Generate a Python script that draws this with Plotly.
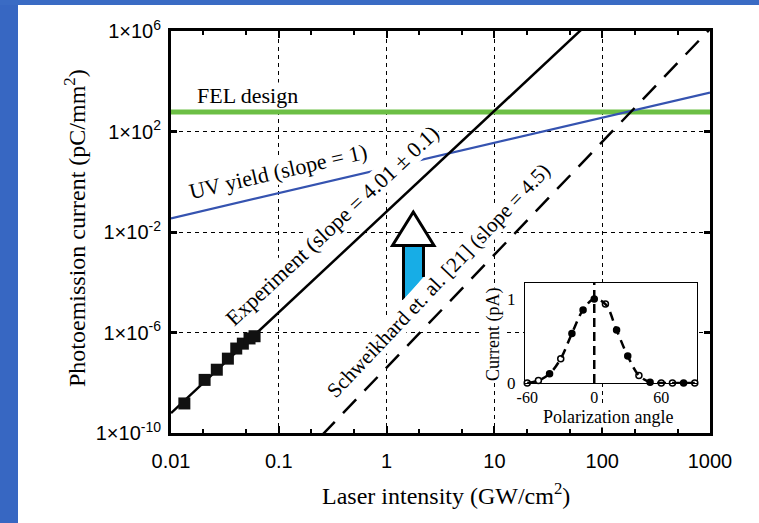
import plotly.graph_objects as go

# ---------------- data ----------------
exp_x = [0.0133, 0.0205, 0.0266, 0.0337, 0.0403, 0.0464, 0.0535, 0.0596]
exp_y = [1.5e-9, 1.3e-8, 3.3e-8, 9.1e-8, 2.3e-7, 3.6e-7, 5.8e-7, 7.1e-7]

fit_exp_x = [0.01, 1000]
fit_exp_y = [6.2e-10, 6.9e10]          # slope 4.01
uv_x = [0.01, 1000]
uv_y = [0.035, 3550]                   # slope 1
sch_x = [0.1, 1000]
sch_y = [1.3e-12, 1.2e6]               # slope 4.5
fel_x = [0.01, 1000]
fel_y = [600, 600]

x_ticks = [0.01, 0.1, 1, 10, 100, 1000]
x_ticktext = ["0.01", "0.1", "1", "10", "100", "1000"]
x_minor = [0.02, 0.05, 0.2, 0.5, 2, 5, 20, 50, 200, 500]
y_ticks = [1e-10, 1e-6, 1e-2, 1e2, 1e6]
y_ticktext = ["1×10<sup>-10</sup>", "1×10<sup>-6</sup>", "1×10<sup>-2</sup>",
              "1×10<sup>2</sup>", "1×10<sup>6</sup>"]

ang = [-60, -50, -40, -30, -20, -10, 0, 10, 20, 30, 40, 50, 60, 70, 80, 90]
cur = [0.0, 0.03, 0.11, 0.29, 0.59, 0.87, 1.0, 0.94, 0.63, 0.32, 0.09, 0.01,
       0.0, 0.0, 0.0, 0.0]
ang_symbols = ["circle-open", "circle-open", "circle", "circle-open", "circle",
               "circle", "circle", "circle-open", "circle", "circle", "circle-open",
               "circle", "circle-open", "circle-open", "circle", "circle-open"]
inset_x_ticks = [-60, 0, 60]
inset_x_ticktext = ["-60", "0", "60"]
inset_y_ticks = [0, 1]

# ---------------- geometry helpers (pixel -> paper) ----------------
W, H = 759, 523
L, R, T, B = 171, 49, 31, 90
PW, PH = W - L - R, H - T - B


def px(x):
    return (x - L) / PW


def py(y):
    return (H - B - y) / PH


serif = "Liberation Serif"
sans = "Liberation Sans"

fig = go.Figure()

fig.add_trace(go.Scatter(x=fel_x, y=fel_y, mode="lines",
                         line=dict(color="#6cbf45", width=5), showlegend=False))
fig.add_trace(go.Scatter(x=uv_x, y=uv_y, mode="lines",
                         line=dict(color="#3553b0", width=2.2), showlegend=False))
fig.add_trace(go.Scatter(x=sch_x, y=sch_y, mode="lines",
                         line=dict(color="black", width=2.5, dash="19px,12px"),
                         showlegend=False))
fig.add_trace(go.Scatter(x=fit_exp_x, y=fit_exp_y, mode="lines",
                         line=dict(color="black", width=2.5), showlegend=False))
fig.add_trace(go.Scatter(x=exp_x, y=exp_y, mode="markers",
                         marker=dict(symbol="square", size=12, color="#111111"),
                         showlegend=False, cliponaxis=False))

# inset
fig.add_trace(go.Scatter(x=ang, y=cur, mode="lines+markers", xaxis="x2", yaxis="y2",
                         line=dict(color="black", width=2.5, dash="9px,6px", shape="spline"),
                         marker=dict(symbol=ang_symbols, size=6, color="black",
                                     line=dict(color="black", width=1.5)),
                         cliponaxis=False, showlegend=False))

grid = dict(showgrid=True, gridcolor="black", gridwidth=1, griddash="4px,4px")

fig.update_layout(
    width=W, height=H,
    margin=dict(l=L, r=R, t=T, b=B),
    paper_bgcolor="white", plot_bgcolor="white",
    xaxis=dict(type="log", range=[-2, 3], tickvals=x_ticks, ticktext=x_ticktext,
               ticks="inside", ticklen=7, tickwidth=2, tickcolor="black",
               showline=True, linewidth=3, linecolor="black", mirror="allticks",
               minor=dict(tickvals=x_minor, ticks="inside", ticklen=4, tickwidth=1.5,
                          tickcolor="black", showgrid=False),
               tickfont=dict(family=sans, size=20, color="black"),
               ticklabelstandoff=8, zeroline=False, **grid),
    yaxis=dict(type="log", range=[-10, 6], tickvals=y_ticks, ticktext=y_ticktext,
               ticks="inside", ticklen=6, tickwidth=3, tickcolor="black",
               showline=True, linewidth=3, linecolor="black", mirror="allticks",
               tickfont=dict(family=sans, size=20, color="black"),
               ticklabelstandoff=3, zeroline=False, **grid),
    xaxis2=dict(domain=[px(525), px(697)], anchor="y2", range=[-62, 92],
                tickvals=inset_x_ticks, ticktext=inset_x_ticktext, ticks="",
                showgrid=False, zeroline=False,
                showline=True, linewidth=1, linecolor="black", mirror=True,
                tickfont=dict(family=serif, size=16, color="black"),
                ticklabelstandoff=0),
    yaxis2=dict(domain=[py(383), py(283)], anchor="x2", range=[0, 1.19],
                tickvals=inset_y_ticks, ticks="", showgrid=False, zeroline=False,
                showline=True, linewidth=1, linecolor="black", mirror=True,
                tickfont=dict(family=serif, size=17, color="black"),
                ticklabelstandoff=5),
)

ann = [
    dict(text="Laser intensity (GW/cm<sup>2</sup>)", x=px(446), y=py(494), size=24),
    dict(text="Photoemission current (pC/mm<sup>2</sup>)", x=px(75), y=py(228), size=24,
         textangle=-90),
    dict(text="FEL design", x=px(196), y=py(95), size=22, xanchor="left", bg=True),
    dict(text="UV yield (slope = 1)", x=px(278), y=py(171), size=22, textangle=-13,
         bg=True),
    dict(text="Experiment (slope = 4.01 ± 0.1)", x=px(332), y=py(225), size=22,
         textangle=-43, bg=True),
    dict(text="Schweikhard et. al. [21] (slope = 4.5)", x=px(438), y=py(281), size=21,
         textangle=-46.5, bg=True),
    dict(text="Current (pA)", x=px(493), y=py(335), size=18, textangle=-90, bg=True),
    dict(text="Polarization angle", x=px(608), y=py(417), size=18, bg=True),
]
for a in ann:
    fig.add_annotation(text=a["text"], x=a["x"], y=a["y"], xref="paper", yref="paper",
                       showarrow=False, textangle=a.get("textangle", 0),
                       xanchor=a.get("xanchor", "center"), yanchor="middle",
                       bgcolor="white" if a.get("bg") else None, borderpad=0,
                       font=dict(family=serif, size=a["size"], color="black"))

shapes = []
# slide background strips
shapes.append(dict(type="rect", xref="paper", yref="paper", x0=px(0), x1=px(18),
                   y0=py(523), y1=py(0), fillcolor="#3767c2", line=dict(width=0),
                   layer="above"))
shapes.append(dict(type="rect", xref="paper", yref="paper", x0=px(0), x1=px(759),
                   y0=py(5), y1=py(0), fillcolor="#3a6bc4", line=dict(width=0),
                   layer="above"))
# inset vertical dashed line at 0
shapes.append(dict(type="line", xref="x2", yref="y2 domain", x0=0, x1=0, y0=0, y1=1,
                   line=dict(color="black", width=2.5, dash="9px,5px")))
# big arrow: shaft
shaft = "M {},{} L {},{} L {},{} L {},{} Z".format(
    px(403.5), py(245.5), px(423.5), py(245.5), px(423.5), py(277), px(403.5), py(300))
shapes.append(dict(type="path", xref="paper", yref="paper", path=shaft,
                   fillcolor="#17ade6", line=dict(width=0)))
shapes.append(dict(type="line", xref="paper", yref="paper", x0=px(403.5), x1=px(403.5),
                   y0=py(245.5), y1=py(300), line=dict(color="black", width=3)))
shapes.append(dict(type="line", xref="paper", yref="paper", x0=px(423.5), x1=px(423.5),
                   y0=py(245.5), y1=py(277), line=dict(color="black", width=3)))
head = "M {},{} L {},{} L {},{} Z".format(
    px(413.3), py(212), px(392.5), py(245.5), px(434), py(245.5))
shapes.append(dict(type="path", xref="paper", yref="paper", path=head,
                   fillcolor="white", line=dict(color="black", width=3)))
fig.update_layout(shapes=shapes)

fig.write_html("out.html")
